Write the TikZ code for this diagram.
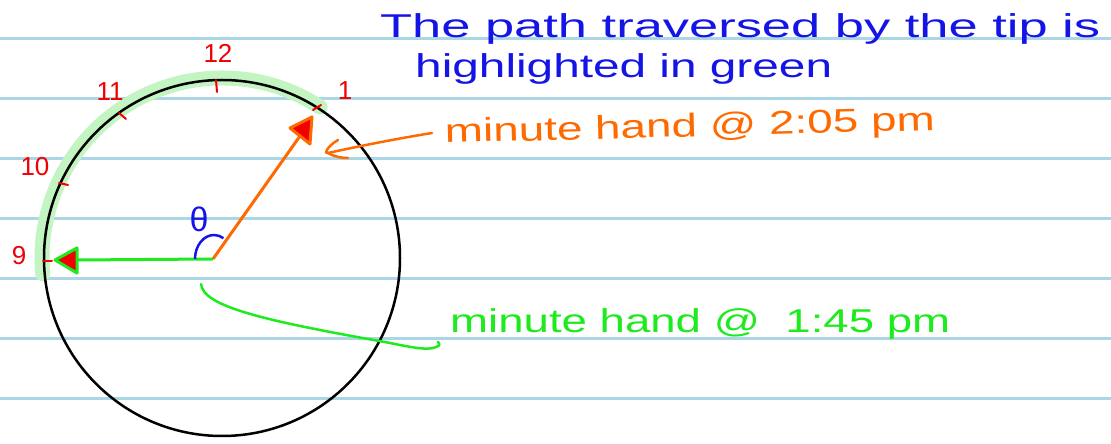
\documentclass[tikz,border=0pt]{standalone}
\usepackage{fontspec}
\setmainfont{Liberation Sans}
\usepackage{graphicx}
\definecolor{ruled}{RGB}{170,214,230}
\definecolor{handblue}{RGB}{20,20,230}
\definecolor{handorange}{RGB}{255,106,0}
\definecolor{handgreen}{RGB}{30,235,30}
\definecolor{handred}{RGB}{240,0,0}
\definecolor{hilite}{RGB}{195,245,195}
\tikzset{
  ruledline/.style={draw=ruled,line width=3pt},
  hl/.style={draw=hilite,line width=15pt,line cap=round},
  clockline/.style={draw=black,line width=2.5pt},
  tick/.style={draw=handred,line width=2pt,line cap=round},
  lbl/.style={text=handred,font=\fontsize{26}{28}\selectfont,inner sep=0pt},
  ohand/.style={draw=handorange,line width=3pt},
  ghand/.style={draw=handgreen,line width=3pt},
  ohead/.style={fill=handred,draw=handorange,line width=3pt,line join=round},
  ghead/.style={fill=handred,draw=handgreen,line width=3pt,line join=round},
  bluetext/.style={text=handblue,anchor=base west,inner sep=0pt,font=\fontsize{33}{36}\selectfont},
  orangetext/.style={text=handorange,anchor=base west,inner sep=0pt,font=\fontsize{33}{36}\selectfont},
  greentext/.style={text=handgreen,anchor=base west,inner sep=0pt,font=\fontsize{33}{36}\selectfont},
}
\begin{document}
\begin{tikzpicture}[x=1pt,y=1pt]
\useasboundingbox (0,0) rectangle (1111,444);
\fill[white] (0,0) rectangle (1111,444);
\foreach \y in {405,345,285,225,165,105,45}
  \draw[ruledline] (0,\y) -- (1111,\y);
% clock
\coordinate (c) at (222,186);
\coordinate (o) at (213,185);
\draw[hl] (c) ++(57:180) arc[start angle=57,end angle=185,radius=180];
\draw[clockline] (c) circle[radius=178];
% ticks
\draw[tick] (216,364) -- (217,352);
\draw[tick] (119,331) -- (126,325);
\draw[tick] (59,261) -- (68,259);
\draw[tick] (43,183) -- (52,183);
\draw[tick] (313,334) -- (321,339);
% hour labels
\node[lbl] (n12) at (218,391) {12};
\node[lbl] (n11) at (110,352) {11};
\node[lbl] (n10) at (35,277) {10};
\node[lbl] (n9) at (19,188) {9};
\node[lbl] (n1) at (345,353) {1};
% hands
\coordinate (obase) at (300,308);
\coordinate (gbase) at (77,184);
\draw[ohand] (o) -- (obase);
\draw[ghand] (o) -- (gbase);
\draw[ohead] (312,327) -- (290,316) -- (310,300) -- cycle;
\draw[ghead] (55,184) -- (77,196) -- (77,171) -- cycle;
% theta
\node[text=handblue,font=\fontsize{34}{36}\selectfont,inner sep=0pt] (theta) at (199,225) {θ};
\draw[handblue,line width=2.5pt] (195,185) arc[start angle=180,end angle=60,x radius=19,y radius=24];
% texts
\node[bluetext] (t1) at (380,406) {\resizebox{720pt}{\height}{The path traversed by the tip is}};
\node[bluetext] (t2) at (415,366) {\resizebox{417pt}{\height}{highlighted in green}};
\node[orangetext,rotate=1.5] (t3) at (445,301) {\resizebox{490pt}{\height}{minute hand @ 2:05 pm}};
\node[greentext] (t4) at (450,111) {\resizebox{500pt}{\height}{minute hand @\ \ 1:45 pm}};
% pointers
\coordinate (ostart) at (432,311);
\coordinate (overtex) at (328,291);
\draw[handorange,line width=2.5pt,line cap=round] (ostart) .. controls (395,305) and (360,298) .. (overtex);
\draw[handorange,line width=2.5pt,line cap=round,line join=round] (338,304) .. controls (326,297) and (324,289) .. (overtex) .. controls (335,287) and (342,286) .. (348,286);
\coordinate (gstart) at (201,160);
\coordinate (gend) at (436,97);
\draw[handgreen,line width=2.5pt,line cap=round] (gstart) .. controls (203,138) and (260,124) .. (385,102) .. controls (410,97) and (428,93) .. (gend) .. controls (440,98) and (440,100) .. (438,102);
\end{tikzpicture}
\end{document}
